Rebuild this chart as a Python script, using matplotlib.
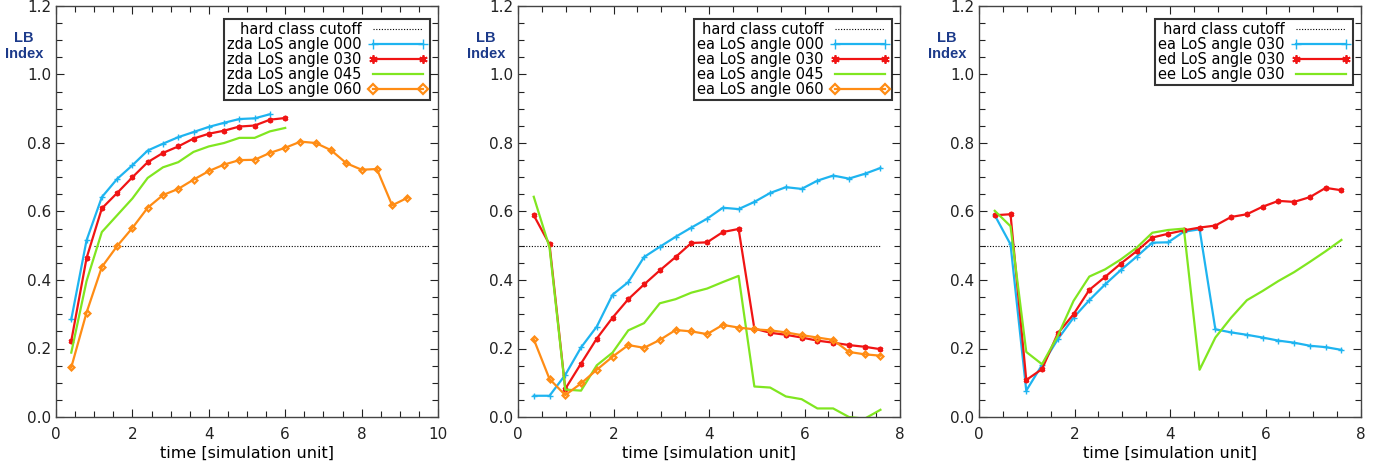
import numpy as np
import matplotlib.pyplot as plt
from matplotlib.ticker import MultipleLocator

# time axes
t_zda = [0.4 * k for k in range(1, 24)]
t_e = [0.33 * k for k in range(1, 24)]

# hard class cutoff: value and x-extent per panel
cutoff = 0.5
cutoff_x = [(1.0, 9.8), (0.1, 7.6), (0.1, 7.6)]

# panel 1: zda runs
zda_000 = [0.285, 0.516, 0.642, 0.695, 0.735, 0.778, 0.798, 0.817, 0.832, 0.847,
           0.859, 0.870, 0.872, 0.884]
zda_030 = [0.222, 0.464, 0.609, 0.654, 0.700, 0.744, 0.771, 0.790, 0.813, 0.827,
           0.836, 0.848, 0.851, 0.868, 0.873]
zda_045 = [0.188, 0.397, 0.540, 0.589, 0.638, 0.698, 0.729, 0.744, 0.774, 0.790,
           0.800, 0.815, 0.815, 0.834, 0.844]
zda_060 = [0.145, 0.305, 0.438, 0.499, 0.552, 0.611, 0.648, 0.666, 0.693, 0.718,
           0.737, 0.750, 0.751, 0.771, 0.786, 0.804, 0.800, 0.779, 0.741, 0.722,
           0.724, 0.618, 0.640]

# panel 2: ea runs
ea_000 = [0.062, 0.062, 0.123, 0.203, 0.264, 0.357, 0.394, 0.467, 0.497, 0.526,
          0.553, 0.579, 0.611, 0.607, 0.628, 0.654, 0.671, 0.666, 0.690, 0.705,
          0.696, 0.710, 0.727]
ea_030 = [0.589, 0.504, 0.082, 0.156, 0.229, 0.290, 0.344, 0.387, 0.428, 0.467,
          0.508, 0.510, 0.540, 0.549, 0.258, 0.246, 0.240, 0.232, 0.223, 0.217,
          0.210, 0.205, 0.198]
ea_045 = [0.643, 0.495, 0.080, 0.077, 0.151, 0.188, 0.253, 0.274, 0.332, 0.344,
          0.363, 0.375, 0.394, 0.412, 0.089, 0.086, 0.060, 0.052, 0.025, 0.025,
          0.0, -0.005, 0.021]
ea_060 = [0.227, 0.111, 0.064, 0.098, 0.138, 0.176, 0.210, 0.202, 0.225, 0.254,
          0.250, 0.242, 0.269, 0.261, 0.256, 0.253, 0.247, 0.239, 0.232, 0.225,
          0.190, 0.183, 0.179]

# panel 3: angle 030 for ea / ed / ee
ea3_030 = [0.589, 0.504, 0.077, 0.152, 0.227, 0.290, 0.341, 0.387, 0.429, 0.468,
           0.509, 0.510, 0.541, 0.548, 0.256, 0.247, 0.240, 0.232, 0.223, 0.217,
           0.208, 0.204, 0.196]
ed3_030 = [0.589, 0.592, 0.108, 0.140, 0.244, 0.300, 0.371, 0.409, 0.448, 0.484,
           0.524, 0.535, 0.545, 0.553, 0.559, 0.584, 0.592, 0.614, 0.631, 0.628,
           0.642, 0.669, 0.662]
ee3_030 = [0.602, 0.557, 0.190, 0.154, 0.237, 0.339, 0.410, 0.431, 0.460, 0.494,
           0.538, 0.546, 0.550, 0.138, 0.232, 0.290, 0.341, 0.368, 0.397, 0.423,
           0.453, 0.484, 0.517]

BLUE = '#1eb4f0'
RED = '#f01414'
GREEN = '#80e620'
ORANGE = '#ff8c14'

sty = {
    'plus': dict(color=BLUE, marker='+', ms=4, mew=1.0, lw=1.6),
    'star': dict(color=RED, marker=(6, 2, 0), ms=4, mew=1.3, lw=1.6),
    'none': dict(color=GREEN, lw=1.6),
    'diam': dict(color=ORANGE, marker='D', ms=3, mew=1.6, mfc='none', lw=1.6),
}

panels = [
    (t_zda, 10, [('zda LoS angle 000', zda_000, 'plus'),
                 ('zda LoS angle 030', zda_030, 'star'),
                 ('zda LoS angle 045', zda_045, 'none'),
                 ('zda LoS angle 060', zda_060, 'diam')]),
    (t_e, 8, [('ea LoS angle 000', ea_000, 'plus'),
              ('ea LoS angle 030', ea_030, 'star'),
              ('ea LoS angle 045', ea_045, 'none'),
              ('ea LoS angle 060', ea_060, 'diam')]),
    (t_e, 8, [('ea LoS angle 030', ea3_030, 'plus'),
              ('ed LoS angle 030', ed3_030, 'star'),
              ('ee LoS angle 030', ee3_030, 'none')]),
]

fig = plt.figure(figsize=(13.89, 4.65), dpi=100)
lefts = [56, 518, 979]

for left, cx, (t, xmax, series) in zip(lefts, cutoff_x, panels):
    ax = fig.add_axes([left / 1389, 48 / 465, 382 / 1389, 411 / 465])
    ax.plot(cx, [cutoff, cutoff], color='k', ls=(0, (1, 1.5)), lw=0.8,
            label='hard class cutoff')
    for name, vals, key in series:
        ax.plot(t[:len(vals)], vals, label=name, **sty[key])
    ax.set_xlim(0, xmax)
    ax.set_ylim(0, 1.2)
    ax.xaxis.set_major_locator(MultipleLocator(2))
    ax.xaxis.set_minor_locator(MultipleLocator(0.5))
    ax.yaxis.set_major_locator(MultipleLocator(0.2))
    ax.yaxis.set_minor_locator(MultipleLocator(0.05))
    ax.yaxis.set_major_formatter(plt.FuncFormatter(lambda v, p: f'{v:.1f}'))
    ax.tick_params(which='both', direction='in', top=True, right=True,
                   labelsize=11, colors='#222222')
    ax.tick_params(axis='x', pad=7)
    ax.tick_params(which='major', length=6, width=0.8)
    ax.tick_params(which='minor', length=4, width=0.8)
    for s in ax.spines.values():
        s.set_color('#444444')
        s.set_linewidth(1.0)
    ax.set_xlabel('time [simulation unit]', fontsize=11.5, labelpad=3)
    leg = ax.legend(loc='upper right', bbox_to_anchor=(1 - 8 / 382, 1 - 13 / 411),
                    borderaxespad=0.0, markerfirst=False, numpoints=2,
                    fontsize=10.5, frameon=True, fancybox=False,
                    borderpad=0.2, labelspacing=0.0, handlelength=4.0,
                    handletextpad=0.5)
    leg.get_frame().set_edgecolor('black')
    leg.get_frame().set_linewidth(1.5)
    for txt in leg.get_texts():
        txt.set_ha('right')
    for h in leg.get_lines():
        if h.get_marker() == 'D':
            h.set_markersize(5)
        elif h.get_marker() == '+':
            h.set_markersize(7)
        elif h.get_marker() not in ('None', None, ''):
            h.set_markersize(6)
    fig.text((left - 32) / 1389, 1 - 46 / 465, 'LB\nIndex', color='#1c3a8a',
             fontsize=10.5, fontweight='bold', family='Liberation Sans',
             ha='center', va='center', linespacing=1.15)

fig.savefig('out.png', dpi=100)
